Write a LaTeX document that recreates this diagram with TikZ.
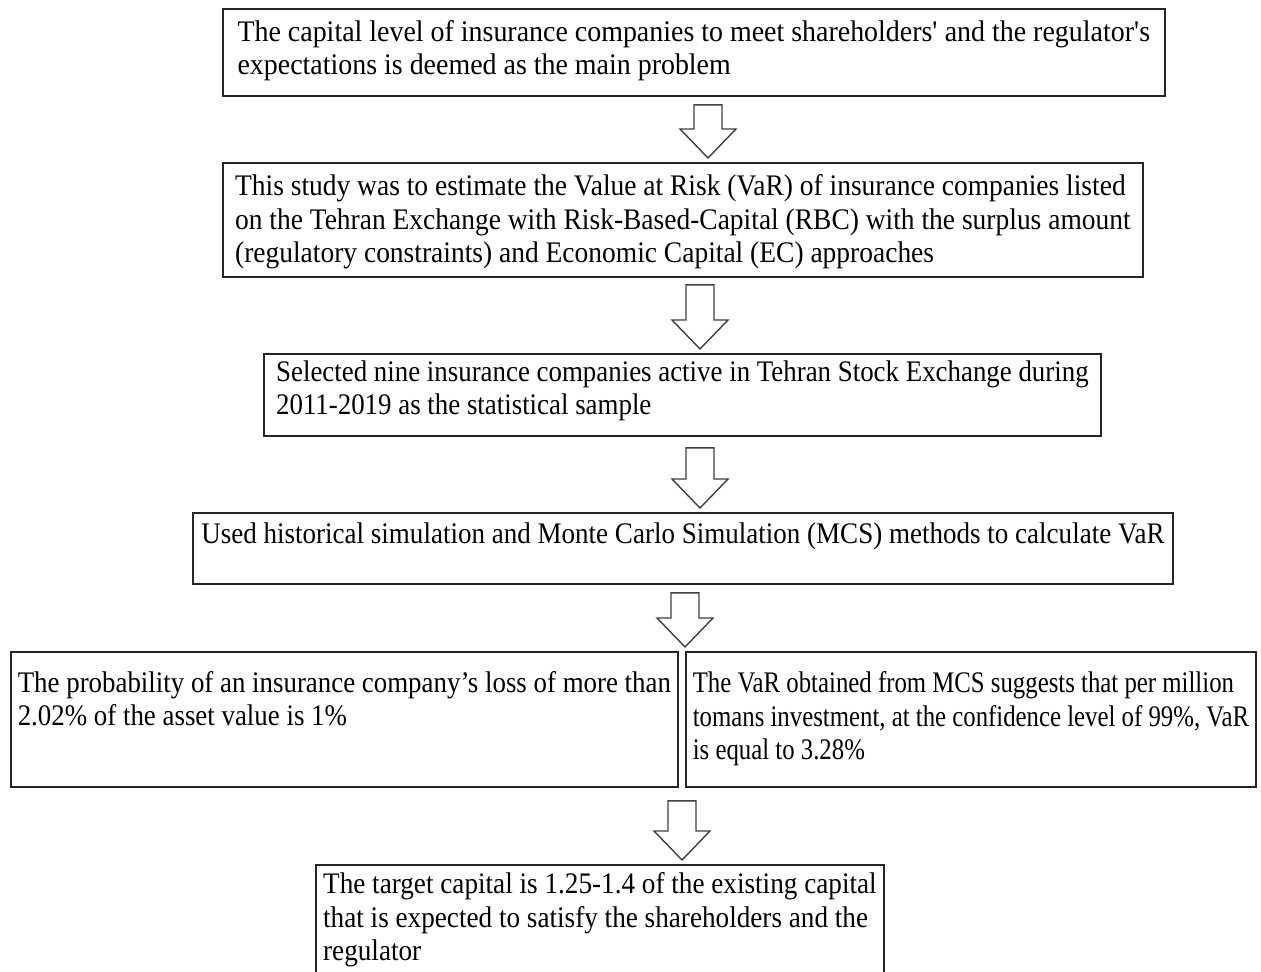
\documentclass[tikz,border=0pt]{standalone}
\usepackage{fontspec}
\setmainfont{Liberation Serif}
\usetikzlibrary{calc}

\begin{document}
\begin{tikzpicture}[
  x = 0.02cm,
  y = -0.02cm,
  box/.style = {
    draw = black!85,
    line width = 1.1pt,
    anchor = north west,
    align = left,
    inner xsep = 0pt,
    inner ysep = 0pt,
    font = \fontsize{17pt}{19.3pt}\selectfont\addfontfeatures{FakeStretch=#1}
  },
  box/.default = 0.92,
  hollow/.style = {
    draw = black!75,
    line width = 0.8pt,
    fill = white,
    line join = miter
  },
  ]
  \useasboundingbox (0, 0) rectangle (1261, 972);

  % Problem statement.
  \node[box=0.935, minimum width=18.84cm, text height=1.32cm, text depth=0.42cm] (problem) at (222, 8)
  {The capital level of insurance companies to meet shareholders\textquotesingle{} and the regulator\textquotesingle s\\
   expectations is deemed as the main problem};
  % Aim of the study.
  \node[box=0.92, minimum width=18.4cm, text height=2.0cm, text depth=0.28cm] (aim) at (222, 162)
  {This study was to estimate the Value at Risk (VaR) of insurance companies listed\\
   on the Tehran Exchange with Risk-Based-Capital (RBC) with the surplus amount\\
   (regulatory constraints) and Economic Capital (EC) approaches};
  % Sample.
  \node[box=0.9, minimum width=16.74cm, text height=1.22cm, text depth=0.42cm] (sample) at (263, 353)
  {Selected nine insurance companies active in Tehran Stock Exchange during\\
   2011-2019 as the statistical sample};
  % Methods.
  \node[box=0.905, minimum width=19.6cm, text height=0.62cm, text depth=0.8cm] (method) at (192, 512)
  {Used historical simulation and Monte Carlo Simulation (MCS) methods to calculate VaR};
  % Results, left and right.
  \node[box=0.9, minimum width=13.34cm, text height=1.48cm, text depth=1.22cm] (probloss) at (10, 651)
  {The probability of an insurance company's loss of more than\\
   2.02\% of the asset value is 1\%};
  \node[box=0.83, minimum width=11.4cm, text height=2.16cm, text depth=0.54cm] (mcsvar) at (685, 651)
  {The VaR obtained from MCS suggests that per million\\
   tomans investment, at the confidence level of 99\%, VaR\\
   is equal to 3.28\%};
  % Target capital.
  \node[box=0.91, minimum width=11.36cm, text height=1.92cm, text depth=0.32cm] (target) at (315, 864)
  {The target capital is 1.25-1.4 of the existing capital\\
   that is expected to satisfy the shareholders and the\\
   regulator};

  % Hollow arrows between the steps.
  \foreach \xpos/\from/\to/\gap in {708/problem/aim/8, 700/aim/sample/7, 700/sample/method/11,
                                    685/method/probloss/8, 682/probloss/target/13} {
    \coordinate (s) at ($(\xpos, 0 |- \from.south) + (0, \gap)$);
    \coordinate (t) at ($(\xpos, 0 |- \to.north) + (0, -4)$);
    \draw[hollow] ($(s) + (-14, 0)$) -- ($(t) + (-14, -29)$) -- ($(t) + (-28, -29)$) -- (t)
      -- ($(t) + (28, -29)$) -- ($(t) + (14, -29)$) -- ($(s) + (14, 0)$) -- cycle;
  }
\end{tikzpicture}
\end{document}
